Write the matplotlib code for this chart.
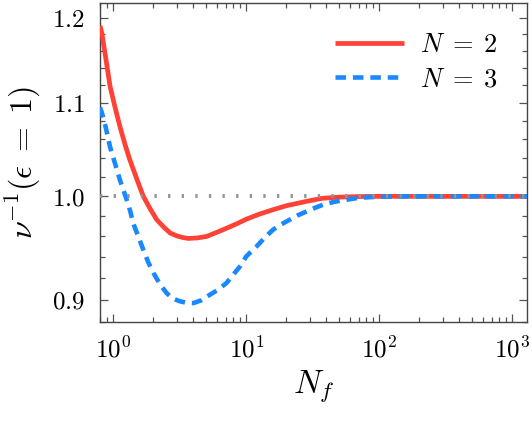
import numpy as np
import matplotlib
matplotlib.use("Agg")
import matplotlib.pyplot as plt
from matplotlib.ticker import FixedLocator, FuncFormatter, LogLocator, NullFormatter

plt.rcParams['mathtext.fontset'] = 'cm'
plt.rcParams['font.family'] = ['DejaVu Serif']

# Data
nf_n2 = [0.794, 0.82, 0.87, 0.944, 1.03, 1.12, 1.22, 1.33, 1.5, 1.68, 1.9, 2.12, 2.4, 2.67, 3.0, 3.3, 3.66, 4.3, 5.04, 6.0,
         7.1, 8.5, 10.0, 12.5, 15.9, 20.0, 28.5, 37.0, 50.0, 70.0, 100.0, 300.0, 1300.0]
nu_n2 = [1.19, 1.181, 1.155, 1.119, 1.095, 1.074, 1.055, 1.038, 1.018, 1.0, 0.987, 0.9765, 0.969, 0.9634, 0.9605, 0.959,
         0.958, 0.9585, 0.960, 0.964, 0.968, 0.9725, 0.977, 0.982, 0.9865, 0.9905, 0.995, 0.998, 0.9992, 0.9998, 1.0, 1.0, 1.0]

nf_n3 = [0.794, 0.82, 0.87, 0.944, 1.03, 1.12, 1.18, 1.26, 1.34, 1.41, 1.54, 1.68, 1.83, 2.0, 2.25, 2.52, 2.8, 3.17, 3.55,
         4.0, 4.6, 5.33, 6.1, 7.1, 8.95, 10.0, 11.9, 13.8, 15.9, 18.4, 21.2, 24.5, 28.5, 33.0, 37.9, 46.0, 56.9, 70.0,
         90.0, 115.0, 150.0, 400.0, 1300.0]
nu_n3 = [1.095, 1.089, 1.075, 1.052, 1.034, 1.017, 1.008, 0.9966, 0.985, 0.973, 0.96, 0.947, 0.935, 0.925, 0.914, 0.906,
         0.901, 0.8985, 0.8972, 0.8969, 0.8995, 0.9046, 0.909, 0.9155, 0.931, 0.9407, 0.950, 0.959, 0.9666, 0.972, 0.9765,
         0.981, 0.9848, 0.9885, 0.9916, 0.9945, 0.9966, 0.9985, 0.9994, 0.9998, 1.0, 1.0, 1.0]

ref_value = 1.0
series_labels = [r'$N\;=\;2$', r'$N\;=\;3$']
y_major = [0.9, 1.0, 1.1, 1.2]
y_minor = [0.88, 0.92, 0.94, 0.96, 0.98, 1.02, 1.04, 1.06, 1.08, 1.12, 1.14, 1.16, 1.18]

fig = plt.figure(figsize=(5.32, 4.25), dpi=100)
ax = fig.add_axes([0.188, 0.243, 0.802, 0.750])

ax.set_xscale('log')
ax.set_yscale('log')
ax.set_xlim(0.794, 1283)
ax.set_ylim(0.880, 1.218)

ax.plot(nf_n2, nu_n2, color='#ff4136', lw=3.4, label=series_labels[0], zorder=3,
        solid_capstyle='butt', solid_joinstyle='round')
ax.plot(nf_n3, nu_n3, color='#1a88ff', lw=3.3, dashes=(2.3, 1.5), label=series_labels[1], zorder=4)
ax.axhline(ref_value, color='#939393', lw=2.8, dashes=(0.6, 2.9), zorder=5)

ax.yaxis.set_major_locator(FixedLocator(y_major))
ax.yaxis.set_minor_locator(FixedLocator(y_minor))
ax.yaxis.set_major_formatter(FuncFormatter(lambda v, p: r'$%.1f$' % v))
ax.yaxis.set_minor_formatter(NullFormatter())

ax.xaxis.set_major_locator(LogLocator(base=10, numticks=10))
ax.xaxis.set_minor_locator(LogLocator(base=10, subs=np.arange(2, 10), numticks=20))
ax.xaxis.set_major_formatter(FuncFormatter(lambda v, p: r'$10^{%d}$' % int(round(np.log10(v)))))
ax.xaxis.set_minor_formatter(NullFormatter())

ax.tick_params(which='both', direction='in', top=True, right=True, colors='#555555',
               labelcolor='black', width=0.9)
ax.tick_params(which='major', length=6, labelsize=18, pad=11)
ax.tick_params(which='minor', length=3.5)
for s in ax.spines.values():
    s.set_color('#444444')
    s.set_linewidth(1.0)

ax.set_xlabel(r'$N_f$', fontsize=24, labelpad=4)
ax.set_ylabel(r'$\nu^{-1}(\epsilon\;=\;1)$', fontsize=23, labelpad=6)

leg = ax.legend(loc='upper right', frameon=False, fontsize=19, handlelength=2.6,
                handletextpad=0.6, labelspacing=0.35, borderaxespad=0.7)

fig.savefig('out.png', dpi=100)
